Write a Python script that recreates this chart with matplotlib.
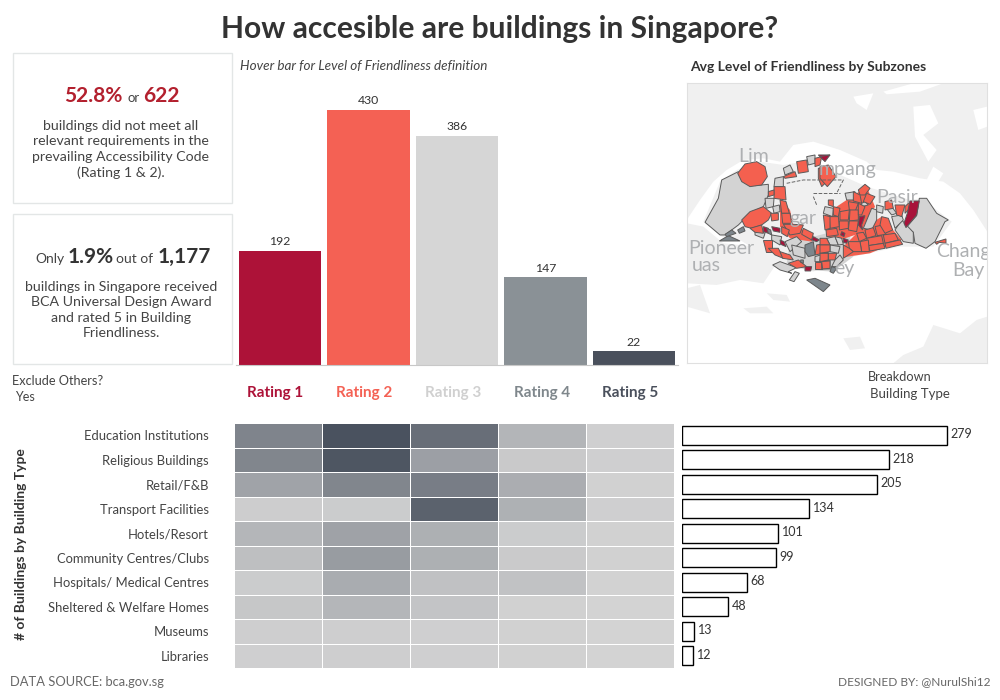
import matplotlib
matplotlib.use("Agg")
import matplotlib.pyplot as plt
from matplotlib.colors import LinearSegmentedColormap
from matplotlib.patches import Polygon, Rectangle
import numpy as np

plt.rcParams['font.family'] = ['Lato', 'DejaVu Sans']

# data
ratings = ["Rating 1", "Rating 2", "Rating 3", "Rating 4", "Rating 5"]
rating_counts = [192, 430, 386, 147, 22]
rating_colors = ["#ad1238", "#f46154", "#d6d6d6", "#8a9196", "#4a505c"]
label_colors = ["#ad1238", "#f46154", "#d0d0d0", "#7f878c", "#4a505c"]

building_types = ["Education Institutions", "Religious Buildings", "Retail/F&B",
                  "Transport Facilities", "Hotels/Resort", "Community Centres/Clubs",
                  "Hospitals/ Medical Centres", "Sheltered & Welfare Homes",
                  "Museums", "Libraries"]
type_totals = [279, 218, 205, 134, 101, 99, 68, 48, 13, 12]
# estimated from the cell shades, each row adds up to its total
heat_values = [[64, 105, 82, 25, 3],
               [63, 102, 42, 8, 3],
               [39, 63, 70, 31, 2],
               [5, 6, 92, 28, 3],
               [24, 40, 29, 6, 2],
               [16, 45, 29, 7, 2],
               [6, 32, 15, 14, 1],
               [10, 24, 12, 2, 0],
               [4, 4, 3, 2, 0],
               [3, 4, 3, 2, 0]]

# map outlines traced by hand. land and labels use the map's own units,
# the west_ and east_ lists were traced from two crops and get shifted below
land_shapes = [
    [(20,100),(922,100),(922,545),(880,480),(840,430),(790,395),(720,385),(640,365),(590,360),(560,335),(480,300),(400,275),(340,285),(300,335),(250,325),(190,330),(140,360),(100,395),(60,450),(20,510)],
    [(20,520),(70,530),(130,580),(230,590),(290,640),(250,700),(180,690),(110,705),(20,700)],
    [(70,515),(120,395),(170,360),(240,335),(310,345),(400,330),(470,370),(560,410),(690,450),(725,445),(815,515),(760,590),(660,590),(520,620),(400,665),(290,640),(180,570),(125,560)],
    [(640,940),(670,915),(730,890),(760,825),(840,850),(890,810),(922,800),(922,940)],
    [(20,715),(60,705),(90,790),(20,770)],
    [(260,730),(320,735),(330,755),(280,750)],
    [(190,775),(260,770),(280,790),(210,790)],
    [(490,865),(540,860),(555,895),(510,900)],
]
water_shapes = [
    [(610,125),(700,100),(790,100),(720,125),(620,133)],
    [(520,140),(580,130),(560,180),(530,160)],
    [(700,170),(750,165),(775,220),(730,255),(770,300),(745,335),(705,260)],
    [(880,180),(922,170),(922,230),(895,240)],
    [(590,380),(720,430),(760,350),(790,370),(760,420),(640,400)],
]
center_fill = [(330,575),(400,560),(480,540),(510,560),(520,620),(460,665),(380,660),(320,640)]
coral_fill = [
    [(490,590),(535,545),(605,500),(665,570),(570,610),(490,622)],
    [(440,490),(470,470),(560,410),(585,470),(540,550),(480,570),(440,560)],
    [(300,445),(330,480),(340,525),(400,555),(395,575),(330,565),(300,530)],
]
catchment_lines = [[(320,400),(370,390),(490,390),(470,430)],
                   [(400,430),(480,430)],
                   [(400,440),(410,465)]]
map_labels = [("Lim", 220, 320), ("mpang", 503, 358), ("Pasir", 650, 442),
              ("gar", 370, 505), ("Pioneer", 125, 597), ("uas", 80, 647),
              ("Chang", 850, 605), ("Bay", 866, 662), ("ey", 492, 655)]

west_gray = [
    [(15,232),(55,160),(65,105),(115,80),(125,105),(165,122),(205,118),(205,150),(190,185),(150,205),(115,240),(75,270),(60,270)],
    [(195,160),(222,160),(220,185),(198,190)],
    [(218,185),(238,180),(240,200),(222,205)],
    [(165,250),(195,265),(190,280),(165,270)],
    [(215,270),(245,275),(240,300),(215,285)],
    [(255,290),(290,275),(305,290),(270,320)],
    [(275,300),(315,310),(315,340),(280,330)],
    [(218,360),(240,350),(290,368),(265,380),(275,385),(240,375)],
    [(268,405),(285,380),(298,385),(282,410)],
    [(250,70),(270,60),(280,80),(255,90)],
    [(320,35),(345,30),(345,55),(325,60)],
    [(225,100),(250,95),(250,125),(222,125)],
    [(345,335),(362,330),(360,350),(345,350)],
]
west_coral = [
    [(113,85),(135,57),(170,50),(195,65),(202,95),(185,120),(150,125),(125,110)],
    [(125,225),(150,200),(190,185),(215,205),(205,225),(185,240),(155,250),(135,245)],
    [(150,250),(185,240),(190,265),(165,262)],
    [(222,125),(255,125),(258,165),(222,160)],
    [(205,140),(222,135),(222,150),(205,155)],
    [(240,165),(258,170),(268,205),(245,205)],
    [(245,205),(270,205),(275,235),(248,235)],
    [(250,238),(280,238),(310,240),(300,265),(270,270)],
    [(310,250),(340,265),(335,285),(305,268)],
    [(245,245),(268,255),(262,275),(245,265)],
    [(212,205),(235,205),(235,225),(215,228)],
    [(188,285),(215,285),(215,320),(198,320)],
    [(205,310),(235,310),(250,340),(225,330)],
    [(240,320),(270,330),(280,345),(248,340)],
    [(265,355),(295,345),(320,365),(290,370)],
    [(250,95),(285,80),(290,95),(255,100)],
    [(290,50),(320,45),(325,80),(295,85)],
    [(345,40),(365,35),(360,60),(345,65)],
    [(355,70),(385,65),(390,100),(365,125),(355,100)],
    [(362,330),(385,325),(385,345),(360,350)],
    [(345,350),(365,350),(365,372),(345,372)],
    [(365,350),(390,345),(390,372),(365,372)],
    [(350,300),(380,295),(385,322),(345,330)],
]
west_crimson = [
    [(190,245),(205,250),(205,265),(190,260)],
    [(215,245),(240,250),(240,262),(220,258)],
    [(340,275),(358,285),(350,290),(335,285)],
    [(240,285),(252,290),(258,305),(242,298)],
    [(315,365),(335,365),(332,378),(315,378)],
    [(355,30),(390,30),(370,45)],
]
west_slate = [
    [(58,288),(85,272),(120,288)],
    [(75,268),(95,255),(108,265),(80,275)],
    [(113,255),(130,245),(135,258),(118,265)],
    [(200,250),(212,255),(215,270),(205,265)],
    [(315,300),(340,290),(345,330),(325,335),(315,320)],
    [(320,405),(345,400),(390,420),(370,440)],
    [(302,345),(310,345),(310,355),(302,352)],
]
east_gray = [
    [(298,160),(320,160),(350,205),(385,225),(375,230),(345,290),(318,310),(285,295),(280,262),(258,248),(290,212)],
    [(245,225),(280,262),(280,295),(250,290),(225,255)],
    [(215,215),(245,210),(250,225),(225,250)],
    [(130,250),(155,190),(170,195),(170,225),(155,255)],
    [(170,180),(190,185),(188,205),(170,200)],
    [(195,185),(215,185),(230,205),(215,210)],
    [(75,145),(105,140),(100,165),(80,165)],
    [(125,175),(135,170),(145,180),(125,185)],
    [(15,185),(40,190),(38,215),(10,205)],
    [(20,280),(45,275),(55,300),(30,300)],
    [(45,275),(65,280),(70,298),(55,300)],
    [(30,300),(60,305),(55,325),(30,320)],
    [(45,345),(60,330),(70,345),(50,365),(35,365)],
]
east_coral = [
    [(0,65),(25,60),(48,95),(22,125),(0,100)],
    [(115,135),(135,118),(150,130),(135,150),(120,150)],
    [(100,140),(120,150),(125,175),(100,168)],
    [(140,145),(165,155),(150,178),(130,170)],
    [(85,170),(115,175),(105,200),(88,195)],
    [(60,200),(88,195),(85,225),(60,225)],
    [(90,195),(115,195),(115,225),(88,228)],
    [(115,175),(135,185),(125,210),(115,210)],
    [(25,165),(40,165),(40,185),(25,180)],
    [(40,185),(60,190),(55,215),(40,210)],
    [(28,215),(55,215),(58,245),(30,250)],
    [(58,228),(85,228),(85,250),(58,255)],
    [(88,228),(115,228),(110,260),(85,255)],
    [(10,210),(30,215),(30,250),(15,255)],
    [(18,255),(50,250),(55,270),(20,275)],
    [(110,265),(130,262),(140,280),(118,290)],
    [(135,255),(160,248),(168,272),(140,280)],
    [(165,245),(188,240),(198,268),(172,272)],
    [(180,240),(185,215),(205,220),(218,255),(195,265)],
    [(140,280),(185,272),(190,295),(145,302)],
    [(190,270),(225,265),(235,285),(195,295)],
    [(145,302),(190,295),(195,310),(150,318)],
    [(195,295),(240,285),(248,298),(198,310)],
    [(120,290),(145,285),(148,320),(125,320)],
    [(85,290),(120,290),(125,320),(100,320),(88,310)],
    [(70,300),(88,310),(100,320),(70,340)],
    [(195,170),(215,165),(220,190),(195,195)],
    [(225,180),(255,180),(245,215),(230,210)],
    [(255,185),(270,170),(270,190),(255,205)],
    [(345,292),(378,282),(378,295),(358,292),(350,298)],
    [(0,280),(20,280),(30,300),(0,300)],
    [(0,300),(30,300),(30,320),(0,325)],
    [(0,325),(25,325),(25,345),(0,350)],
    [(25,325),(50,325),(45,345),(25,345)],
    [(5,350),(30,348),(30,370),(8,372)],
]
east_crimson = [
    [(270,168),(298,168),(290,210),(258,248),(252,235),(262,205)],
    [(118,215),(135,212),(125,240),(128,255),(115,240)],
    [(65,260),(75,265),(72,275),(62,270)],
    [(70,280),(85,285),(80,295),(70,292)],
    [(0,35),(30,30),(15,50)],
]
east_slate = [[(35,365),(50,370),(40,385),(30,380)]]

dark = "#333333"
fig = plt.figure(figsize=(10, 7), dpi=100, facecolor="white")


def pixel_axes(x0, y0, x1, y1):
    return fig.add_axes([x0 / 1000, 1 - y1 / 700, (x1 - x0) / 1000, (y1 - y0) / 700])


# overlay in pixels for the loose text
page = fig.add_axes([0, 0, 1, 1], zorder=5)
page.set_xlim(0, 1000)
page.set_ylim(700, 0)
page.axis("off")


def put(x, y, s, size=9.5, color="#444444", ha="center", **kw):
    page.text(x, y, s, fontsize=size, color=color, ha=ha, va="center", **kw)


put(500, 29, "How accesible are buildings in Singapore?", size=21.6, color=dark, fontweight="bold")
put(240, 66, "Hover bar for Level of Friendliness definition", size=9.7, ha="left", style="italic")
put(690, 67, "Avg Level of Friendliness by Subzones", size=10, color=dark, ha="left", fontweight="bold")

# text boxes
for y0 in (52.5, 213.5):
    page.add_patch(Rectangle((12.5, y0), 219, 150, fc="white", ec="#e3e6e6", lw=1))
put(64, 96, "52.8%", size=15, color="#b3202e", ha="left", fontweight="bold")
put(127, 98, "or", size=9.5, ha="left")
put(143, 96, "622", size=15, color="#b3202e", ha="left", fontweight="bold")
put(121, 149.5, "buildings did not meet all\nrelevant requirements in the\nprevailing Accessibility Code\n(Rating 1 & 2).",
    size=10.2, linespacing=1.33)
put(35, 259, "Only", size=10, ha="left")
put(68, 257, "1.9%", size=15, color=dark, ha="left", fontweight="bold")
put(116, 259, "out of", size=10, ha="left")
put(158, 257, "1,177", size=15, color=dark, ha="left", fontweight="bold")
put(121, 310, "buildings in Singapore received\nBCA Universal Design Award\nand rated 5 in Building\nFriendliness.",
    size=10.2, linespacing=1.33)

put(12, 381, "Exclude Others?", size=9.2, ha="left")
put(15, 397, "Yes", size=9, ha="left")
put(900, 377, "Breakdown", size=9.2)
put(910, 394, "Building Type", size=9.5)
put(21, 544, "# of Buildings by Building Type", size=10, color=dark, rotation=90, fontweight="bold")
put(10, 682, "DATA SOURCE: bca.gov.sg", size=9.3, color="#666666", ha="left")
put(990, 682, "DESIGNED BY: @NurulShi12", size=8.6, color="#666666", ha="right")

# rating bars
ax_bar = pixel_axes(236, 83, 678, 364.5)
x = np.arange(len(ratings))
ax_bar.bar(x, rating_counts, width=0.93, color=rating_colors)
for i, v in enumerate(rating_counts):
    ax_bar.text(i, v + 6, str(v), ha="center", va="bottom", fontsize=8.8, color=dark)
ax_bar.set_xlim(-0.5, 4.5)
ax_bar.set_ylim(0, 475)
ax_bar.set_yticks([])
ax_bar.set_xticks([])
for s in ("top", "left", "right"):
    ax_bar.spines[s].set_visible(False)
ax_bar.spines["bottom"].set_color("#c8c8c8")

for i, name in enumerate(ratings):
    put(275.5 + i * 88.7, 393, name, size=11, color=label_colors[i], fontweight="bold")

# heat table
ax_heat = pixel_axes(234, 423, 674, 668)
cmap = LinearSegmentedColormap.from_list("greys", ["#d3d3d3", "#4a525f"])
ax_heat.pcolormesh(np.array(heat_values), cmap=cmap, vmin=0, vmax=105, edgecolors="white", linewidth=0.5)
ax_heat.invert_yaxis()
ax_heat.set_xticks([])
ax_heat.set_yticks(np.arange(len(building_types)) + 0.5)
ax_heat.set_yticklabels(building_types, fontsize=9.4, color="#444444")
ax_heat.tick_params(axis="y", length=0, pad=18)
for s in ax_heat.spines.values():
    s.set_visible(False)

# totals by building type
ax_tot = pixel_axes(682, 423, 1000, 668)
y = np.arange(len(type_totals))
ax_tot.barh(y, type_totals, height=0.78, facecolor="white", edgecolor="black", linewidth=1)
for i, v in enumerate(type_totals):
    ax_tot.text(v + 4, i - 0.05, str(v), va="center", fontsize=9, color=dark)
ax_tot.set_xlim(0, 335)
ax_tot.set_ylim(len(type_totals) - 0.5, -0.5)
ax_tot.axis("off")

# map
ax_map = pixel_axes(686.7, 83.3, 987.3, 363.3)
ax_map.set_xlim(20, 922)
ax_map.set_ylim(940, 100)
ax_map.set_xticks([])
ax_map.set_yticks([])
for s in ax_map.spines.values():
    s.set_color("#e0e0e0")
for pts in land_shapes:
    ax_map.add_patch(Polygon(pts, fc="#f0f0f0", ec="none"))
for pts in water_shapes:
    ax_map.add_patch(Polygon(pts, fc="white", ec="none"))
for name, lx, ly in map_labels:
    ax_map.text(lx, ly, name, fontsize=14, color="#aeb0b2", ha="center", va="center", clip_on=True)
for pts in catchment_lines:
    xs, ys = zip(*pts)
    ax_map.plot(xs, ys, color="#666666", lw=0.7, ls="--")
ax_map.add_patch(Polygon(center_fill, fc="#d3d3d3", ec="none"))
for pts in coral_fill:
    ax_map.add_patch(Polygon(pts, fc="#f4604f", ec="none"))


def draw_zones(zones, col, dx, dy):
    for pts in zones:
        moved = [(px + dx, py + dy) for px, py in pts]
        ax_map.add_patch(Polygon(moved, fc=col, ec="#5a5a5a", lw=0.7))


for zones, col in ((west_gray, "#d3d3d3"), (west_coral, "#f4604f"),
                   (west_crimson, "#a8123a"), (west_slate, "#7d868c")):
    draw_zones(zones, col, 60, 285)
for zones, col in ((east_gray, "#d3d3d3"), (east_coral, "#f4604f"),
                   (east_crimson, "#a8123a"), (east_slate, "#7d868c")):
    draw_zones(zones, col, 420, 285)

fig.savefig("out.png", dpi=100)
